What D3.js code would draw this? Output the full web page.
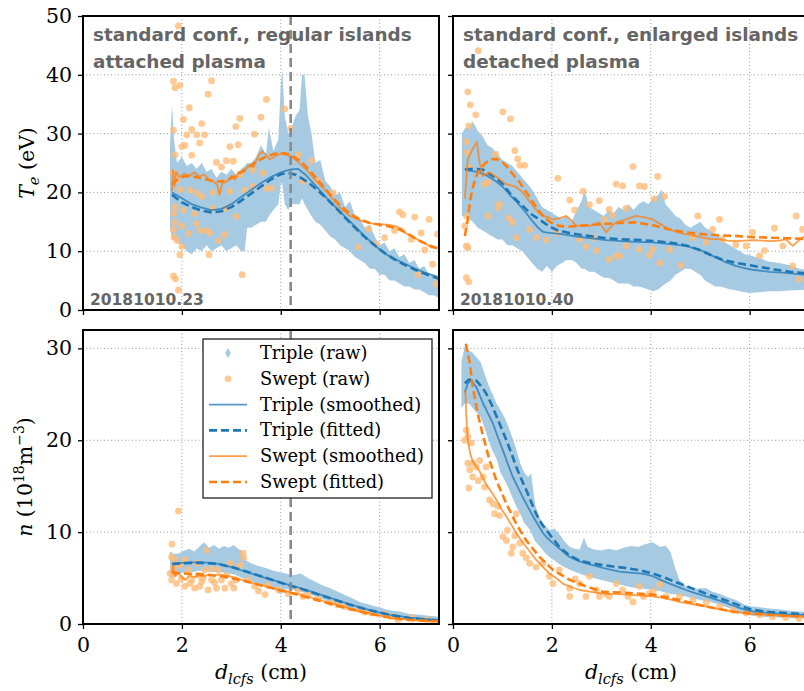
<!DOCTYPE html>
<html>
<head>
<meta charset="utf-8">
<script src="https://cdn.jsdelivr.net/npm/d3@7/dist/d3.min.js"></script>
<style>
  body { margin: 0; background: #fff; overflow: hidden; }
  svg { display: block; font-family: "DejaVu Serif", serif; }
  .annot { font-family: "DejaVu Sans", sans-serif; font-weight: bold; fill: #656565; }
  .tick text { font-family: "DejaVu Serif", serif; font-size: 20.5px; fill: #000; }
</style>
</head>
<body>
<svg id="chart" width="804" height="691"></svg>
<script>
// ============== Data ==============
const xDomain = [0, 7.2];
const dTicks = [0, 2, 4, 6];
const teTicks = [0, 10, 20, 30, 40, 50];
const nTicks = [0, 10, 20, 30];
const separatrixD = 4.2;

// --- Te, attached (20181010.23): triple raw envelope [d, low, high]
const teAttBand = [
  [1.76, 14, 28], [1.80, 12, 35], [1.84, 12, 29], [1.90, 11.5, 25], [2.00, 11, 26],
  [2.10, 10, 24.5], [2.20, 9.5, 25], [2.30, 10.5, 24], [2.40, 10, 25], [2.50, 11, 23.5],
  [2.60, 10, 24], [2.70, 10.5, 22.5], [2.80, 11, 23.5], [2.90, 10, 23], [3.00, 10.5, 24],
  [3.10, 11, 23], [3.20, 10, 24], [3.27, 10, 24.5], [3.32, 14, 25], [3.40, 14, 25],
  [3.50, 14.5, 26], [3.60, 15, 28], [3.70, 15, 26.5], [3.76, 16, 31], [3.85, 17, 27],
  [3.95, 18, 29], [4.00, 21.5, 38], [4.03, 21.5, 41], [4.08, 18, 33], [4.15, 17, 30],
  [4.22, 18, 31], [4.30, 18, 33], [4.38, 18, 34], [4.43, 19, 40], [4.48, 18, 40],
  [4.55, 17, 33], [4.62, 16, 30], [4.70, 15, 25], [4.80, 14.5, 25.5], [4.90, 13.5, 22],
  [5.00, 12.5, 21], [5.10, 12, 19.5], [5.20, 11, 20], [5.30, 10.5, 17.5], [5.40, 10, 18.5],
  [5.50, 9, 16], [5.60, 8.5, 15.5], [5.70, 8, 14], [5.80, 7, 14.5], [5.90, 7, 12.5],
  [6.00, 6, 11], [6.10, 6, 11.5], [6.20, 5, 10], [6.30, 5, 10.5], [6.40, 4.5, 9],
  [6.50, 4, 9.5], [6.60, 4, 8], [6.70, 3.5, 8.5], [6.80, 3.5, 7], [6.90, 3, 7.5],
  [7.00, 2.5, 6], [7.10, 2.5, 6], [7.20, 2, 5]
];
const teAttSwept = [
  [1.93, 48.3], [1.83, 38.9], [1.86, 37.8], [1.96, 38.2], [2.60, 39.0], [2.53, 36.7],
  [2.15, 34.4], [3.71, 35.8], [2.03, 32.4], [3.17, 32.6], [3.60, 32.8], [4.08, 34.2],
  [4.20, 30.9], [1.83, 30.6], [2.20, 30.7], [2.40, 31.7], [2.10, 29.8], [2.30, 29.8],
  [2.46, 29.8], [2.36, 28.4], [3.09, 31.2], [3.47, 29.9], [2.00, 27.8], [2.06, 28.0],
  [2.97, 27.8], [3.14, 28.1], [1.86, 26.4], [2.20, 26.3], [2.70, 25.1], [2.90, 25.4],
  [3.04, 25.3], [2.80, 24.3], [3.17, 23.0], [3.64, 23.3], [3.44, 23.8], [4.35, 26.4],
  [4.62, 25.4], [4.75, 22.0], [3.71, 20.7], [3.81, 20.7], [4.45, 21.9], [5.06, 19.9],
  [1.83, 23.3], [1.90, 22.1], [1.96, 20.5], [2.16, 20.4], [2.30, 19.9], [2.40, 19.3],
  [2.63, 20.0], [2.97, 20.2], [3.27, 20.4], [3.44, 21.0], [1.86, 17.5], [2.03, 17.0],
  [2.30, 14.7], [2.36, 13.5], [2.50, 13.5], [2.56, 13.1], [2.13, 13.0], [2.00, 14.3],
  [1.83, 16.4], [1.86, 14.9], [1.83, 13.7], [2.26, 16.4], [2.63, 17.3], [2.89, 17.3],
  [3.10, 15.9], [2.87, 12.8], [2.74, 11.8], [1.84, 12.4], [1.90, 11.8], [2.00, 10.8],
  [1.96, 9.4], [2.55, 9.4], [1.83, 5.8], [1.87, 5.3], [1.93, 3.4], [3.22, 6.0],
  [5.57, 10.7], [5.78, 13.8], [5.94, 11.2], [6.10, 12.3], [6.30, 13.5], [6.40, 16.7],
  [6.47, 16.2], [6.71, 15.8], [7.00, 15.4], [6.84, 13.1], [6.64, 12.0], [6.91, 10.2],
  [6.77, 6.0], [7.07, 7.8], [7.14, 4.4], [7.17, 12.9]
];
const teAttTripleSmooth = [
  [1.8, 20], [2.0, 19], [2.2, 18], [2.4, 17.4], [2.6, 17], [2.8, 17.2], [3.0, 18],
  [3.2, 19.2], [3.4, 20.4], [3.6, 21.6], [3.8, 22.6], [4.0, 23.4], [4.2, 23.9],
  [4.35, 24], [4.5, 23], [4.7, 21.2], [4.9, 19.3], [5.1, 17.6], [5.3, 15.9], [5.5, 14.2],
  [5.7, 12.5], [5.9, 11], [6.1, 9.6], [6.3, 8.7], [6.5, 7.9], [6.7, 7.1], [6.9, 6.4], [7.2, 5.6]
];
const teAttTripleFit = [
  [1.8, 19.6], [2.0, 18.3], [2.2, 17.5], [2.4, 16.9], [2.6, 16.6], [2.8, 16.8], [3.0, 17.5],
  [3.2, 18.6], [3.4, 19.8], [3.6, 21], [3.8, 22.2], [4.0, 23.1], [4.15, 23.3], [4.3, 23],
  [4.5, 22], [4.7, 20.7], [4.9, 19.2], [5.1, 17.5], [5.3, 15.7], [5.5, 14], [5.7, 12.4],
  [5.9, 11], [6.1, 9.7], [6.3, 8.6], [6.5, 7.7], [6.7, 6.9], [6.9, 6.2], [7.2, 5.3]
];
const teAttSweptSmooth = [
  [1.8, 20.2], [1.82, 23.8], [1.85, 21], [1.88, 23.5], [1.95, 22.6], [2.05, 23.2], [2.15, 22.8],
  [2.25, 23.4], [2.35, 22.7], [2.45, 23], [2.55, 22.2], [2.65, 21.8], [2.72, 21.2], [2.76, 19.6],
  [2.82, 21.6], [2.9, 21.8], [3.0, 22.8], [3.08, 22.2], [3.15, 23.5], [3.25, 23.4], [3.35, 24.6],
  [3.45, 24.3], [3.55, 26.3], [3.62, 27], [3.7, 26.4], [3.78, 25.6], [3.9, 26.2], [4.0, 26.6],
  [4.1, 26.4], [4.2, 26.2], [4.35, 25.2], [4.5, 24], [4.65, 22.6], [4.8, 21.2], [4.95, 19.9],
  [5.1, 18.4], [5.25, 17], [5.4, 16], [5.55, 15.4], [5.7, 15], [5.85, 14.7], [6.0, 14.6],
  [6.15, 14.5], [6.3, 14.3], [6.45, 13.8], [6.55, 12.9], [6.65, 12.6], [6.8, 11.8],
  [6.95, 11.2], [7.05, 10.6], [7.2, 10.6]
];
const teAttSweptFit = [
  [1.8, 21.4], [1.95, 22.5], [2.1, 22.8], [2.3, 22.6], [2.5, 22.2], [2.7, 21.8], [2.9, 22],
  [3.1, 22.9], [3.3, 24], [3.5, 25.2], [3.7, 26.1], [3.9, 26.6], [4.05, 26.7], [4.2, 26.4],
  [4.4, 25.3], [4.6, 23.6], [4.8, 21.6], [5.0, 19.6], [5.2, 17.8], [5.4, 16.4], [5.6, 15.4],
  [5.8, 14.8], [6.0, 14.5], [6.2, 14.2], [6.4, 13.7], [6.6, 12.8], [6.8, 11.8], [7.0, 11], [7.2, 10.4]
];

// --- Te, detached (20181010.40)
const teDetBand = [
  [0.18, 16, 30], [0.25, 16, 31], [0.30, 15.5, 31], [0.40, 15, 32], [0.50, 14, 30.5],
  [0.60, 13.5, 29.5], [0.70, 13, 28], [0.80, 12.5, 27.5], [0.90, 12, 26.5], [1.00, 12, 25.5],
  [1.10, 11, 25], [1.20, 11, 24.5], [1.30, 10.5, 23.5], [1.40, 10, 22.5], [1.50, 9, 21.5],
  [1.60, 8, 20.5], [1.70, 7, 19], [1.80, 6.5, 17.5], [1.90, 7.5, 17], [2.00, 6.5, 16.5],
  [2.10, 7.5, 16], [2.20, 8, 15.5], [2.30, 8.5, 16], [2.40, 8.5, 15], [2.50, 8, 17],
  [2.60, 7, 18.5], [2.66, 7, 20.5], [2.75, 6.5, 17.5], [2.85, 6.5, 17], [2.95, 6, 16.5],
  [3.05, 5.5, 16], [3.15, 5.5, 17], [3.25, 5, 16.5], [3.35, 4.5, 17.5], [3.45, 4.5, 17],
  [3.55, 4.5, 18], [3.65, 4, 17], [3.75, 4, 18], [3.85, 3.8, 18.5], [3.95, 3.5, 18],
  [4.05, 3.2, 19], [4.15, 3.5, 19.5], [4.22, 4, 20.5], [4.30, 4.5, 18], [4.40, 5, 17],
  [4.50, 6, 16], [4.60, 6.5, 15.5], [4.70, 7, 14.5], [4.80, 7, 14], [4.90, 6.5, 14.5],
  [5.00, 6, 15], [5.10, 5, 14], [5.20, 4.5, 13.5], [5.30, 4, 13], [5.40, 4, 12.5],
  [5.50, 3.8, 11.5], [5.60, 3.5, 11], [5.70, 3.4, 10.5], [5.80, 3.2, 10], [5.90, 3, 9.5],
  [6.00, 2.9, 9.3], [6.20, 3, 8.8], [6.40, 3.2, 8.2], [6.60, 3.2, 8], [6.80, 3.3, 7.6],
  [7.00, 3.4, 7], [7.20, 3.4, 6.8]
];
const teDetSwept = [
  [0.51, 44.1], [0.30, 37.1], [0.35, 34.9], [0.46, 33.2], [0.32, 31.3], [1.01, 33.7],
  [1.16, 32.5], [0.27, 28.6], [0.28, 26.8], [0.86, 26.5], [1.25, 27.1], [1.31, 25.7],
  [1.35, 24.6], [1.45, 24.6], [0.34, 24.2], [0.64, 21.4], [0.71, 21.7], [0.94, 18.0],
  [0.91, 17.4], [0.27, 16.0], [0.24, 14.3], [0.27, 10.9], [0.30, 10.6], [0.27, 5.5],
  [0.32, 4.8], [0.71, 16.0], [1.13, 15.6], [1.20, 14.9], [1.28, 12.3], [1.55, 13.7],
  [1.68, 12.3], [1.89, 11.9], [2.12, 22.4], [2.36, 18.7], [2.46, 17.0], [2.63, 20.2],
  [2.76, 17.9], [2.96, 18.6], [3.22, 16.1], [3.30, 21.4], [3.43, 21.1], [3.50, 17.3],
  [3.64, 24.4], [3.77, 21.1], [3.87, 21.0], [4.07, 18.9], [4.14, 22.7], [4.28, 19.3],
  [2.56, 12.0], [2.69, 10.8], [2.83, 12.3], [3.16, 8.6], [3.30, 9.2], [3.37, 9.2],
  [2.90, 10.1], [3.50, 10.9], [3.77, 10.3], [3.97, 9.3], [4.04, 10.3], [4.18, 8.0],
  [4.38, 10.3], [4.61, 7.6], [4.84, 12.3], [4.95, 16.0], [5.12, 11.5], [5.25, 13.7],
  [5.39, 15.4], [5.45, 12.0], [5.72, 11.1], [5.93, 10.9], [6.06, 13.2], [6.20, 9.2],
  [6.30, 10.1], [6.50, 13.9], [6.67, 10.9], [6.87, 7.5], [6.94, 16.0], [7.00, 5.2],
  [7.07, 13.7], [2.09, 13.1], [3.06, 15.4], [3.16, 17.1]
];
const teDetTripleSmooth = [
  [0.26, 23.8], [0.4, 23.6], [0.54, 23.4], [0.7, 22.8], [0.85, 22], [1.0, 21], [1.15, 19.6],
  [1.3, 18.3], [1.45, 16.8], [1.6, 15.2], [1.72, 14], [1.82, 13.3], [1.95, 13.1], [2.2, 12.9],
  [2.5, 12.5], [2.8, 12.2], [3.1, 11.9], [3.4, 11.7], [3.7, 11.6], [4.04, 11.5], [4.4, 11.2],
  [4.71, 10.9], [4.95, 10.3], [5.12, 9.8], [5.3, 9], [5.5, 8.2], [5.72, 7.5], [5.9, 7.1],
  [6.1, 6.8], [6.4, 6.5], [6.73, 6.3], [7.07, 6], [7.2, 5.9]
];
const teDetTripleFit = [
  [0.24, 23.9], [0.4, 24], [0.6, 23.9], [0.8, 22.8], [1.0, 21.5], [1.2, 19.3], [1.42, 17.6],
  [1.6, 16.2], [1.76, 15.3], [1.95, 14.2], [2.1, 13.6], [2.35, 13.1], [2.57, 12.8], [2.85, 12.5],
  [3.1, 12.2], [3.45, 12.0], [3.79, 11.9], [4.1, 11.7], [4.45, 11.4], [4.75, 10.9], [4.99, 10.2],
  [5.2, 9.4], [5.46, 8.5], [5.8, 7.9], [6.14, 7.4], [6.5, 6.9], [6.81, 6.5], [7.07, 6.3], [7.2, 6.2]
];
const teDetSweptSmooth = [
  [0.24, 18.9], [0.3, 25.7], [0.4, 27.4], [0.48, 28.6], [0.54, 25.1], [0.6, 22.8], [0.74, 23.4],
  [0.94, 22.3], [1.05, 21.5], [1.21, 21.1], [1.3, 20.8], [1.41, 20], [1.52, 18.8], [1.62, 17.7],
  [1.72, 16.6], [1.82, 16], [1.92, 15.8], [2.02, 15.4], [2.15, 15.6], [2.29, 16], [2.4, 15.2],
  [2.49, 14.3], [2.62, 14.4], [2.76, 14.3], [2.88, 14.6], [2.96, 14.9], [3.05, 13.8], [3.1, 13.2],
  [3.2, 14.2], [3.3, 14.9], [3.5, 15.4], [3.7, 16], [3.85, 15.8], [4.04, 15.4], [4.2, 14.6],
  [4.38, 13.7], [4.55, 13.2], [4.71, 12.9], [4.9, 12.6], [5.05, 12.3], [5.2, 12.1], [5.39, 12],
  [5.55, 11.8], [5.72, 11.7], [5.9, 11.8], [6.06, 11.9], [6.25, 11.8], [6.4, 11.7], [6.6, 11.8],
  [6.73, 12], [6.87, 10.9], [6.95, 11.5], [7.07, 12.4], [7.2, 12.4]
];
const teDetSweptFit = [
  [0.24, 12.6], [0.3, 15.5], [0.34, 18.3], [0.4, 20.8], [0.47, 22.8], [0.57, 24.2], [0.67, 25.1],
  [0.78, 25.6], [0.88, 25.7], [0.98, 25.3], [1.08, 24.5], [1.2, 23.2], [1.35, 21.7], [1.5, 19.8],
  [1.62, 18.3], [1.75, 16.7], [1.89, 15.4], [2.02, 14.7], [2.15, 14.3], [2.35, 14.2], [2.56, 14.3],
  [2.8, 14.5], [3.03, 14.6], [3.35, 14.8], [3.7, 14.9], [4.05, 14.4], [4.38, 13.7], [4.7, 13.2],
  [5.05, 12.9], [5.4, 12.7], [5.72, 12.6], [6.05, 12.4], [6.4, 12.3], [6.75, 12.2], [7.07, 12.1], [7.2, 12.1]
];

// --- n, attached
const nAttBand = [
  [1.76, 5.0, 7.9], [1.85, 5.2, 7.6], [1.95, 5.5, 7.7], [2.05, 5.6, 8.0], [2.15, 5.6, 8.2],
  [2.25, 5.7, 7.9], [2.35, 5.8, 8.4], [2.45, 5.8, 8.9], [2.55, 5.7, 8.3], [2.65, 5.7, 8.6],
  [2.75, 5.6, 8.2], [2.85, 5.6, 8.5], [2.95, 5.5, 8.3], [3.05, 5.4, 8.6], [3.15, 5.2, 8.1],
  [3.22, 5.0, 8.0], [3.28, 4.9, 7.0], [3.40, 4.7, 6.6], [3.55, 4.4, 6.3], [3.70, 4.2, 6.1],
  [3.85, 3.9, 5.8], [4.00, 3.2, 5.6], [4.10, 3.8, 5.5], [4.25, 3.7, 5.3], [4.40, 3.5, 5.5],
  [4.55, 3.3, 5.0], [4.70, 3.0, 4.6], [4.85, 2.7, 4.2], [5.00, 2.4, 3.9], [5.20, 2.0, 3.4],
  [5.40, 1.7, 2.9], [5.60, 1.4, 2.4], [5.80, 1.1, 2.1], [6.00, 0.9, 1.8], [6.20, 0.7, 1.5],
  [6.40, 0.5, 1.35], [6.60, 0.45, 1.1], [6.80, 0.4, 1.0], [7.00, 0.35, 0.9], [7.20, 0.3, 0.8]
];
const nAttSwept = [
  [1.93, 12.3], [1.80, 8.7], [1.79, 7.3], [1.83, 6.2], [1.86, 5.5], [1.79, 4.8], [1.89, 4.4],
  [1.99, 4.9], [2.06, 4.1], [2.13, 5.9], [2.20, 4.8], [2.26, 3.9], [2.33, 5.3], [2.40, 4.6],
  [2.46, 5.9], [2.53, 3.7], [2.60, 4.8], [2.70, 3.9], [2.73, 5.9], [2.80, 4.8], [2.90, 5.3],
  [3.00, 4.4], [3.10, 4.8], [3.24, 7.7], [3.17, 6.4], [3.34, 4.8], [3.47, 4.1], [3.68, 3.2],
  [3.74, 4.2], [3.95, 3.7], [4.15, 3.3], [4.35, 3.7], [4.55, 3.2], [4.75, 2.8], [5.02, 2.3],
  [5.29, 1.9], [5.56, 1.6], [5.83, 1.2], [6.10, 1.1], [6.37, 0.5], [6.64, 0.7], [6.97, 0.5],
  [1.86, 7.0], [1.96, 6.4], [2.06, 7.0], [2.30, 6.6], [2.60, 6.0], [2.97, 6.6], [1.76, 5.5],
  [2.36, 4.1], [2.87, 3.9], [2.50, 8.05], [3.25, 7.2], [2.16, 4.4], [2.43, 5.0], [2.66, 4.5],
  [3.05, 3.9], [3.55, 3.6], [4.45, 3.0], [5.15, 2.1], [5.70, 1.3], [6.25, 0.8]
];
const nAttTripleSmooth = [
  [1.8, 6.6], [2.0, 6.65], [2.2, 6.7], [2.4, 6.7], [2.6, 6.65], [2.8, 6.5], [3.0, 6.2],
  [3.2, 5.85], [3.4, 5.5], [3.6, 5.15], [3.8, 4.85], [4.0, 4.5], [4.2, 4.2], [4.4, 3.9],
  [4.6, 3.55], [4.8, 3.2], [5.0, 2.85], [5.2, 2.5], [5.4, 2.15], [5.6, 1.8], [5.8, 1.5],
  [6.0, 1.25], [6.2, 1.0], [6.4, 0.85], [6.6, 0.7], [6.8, 0.6], [7.0, 0.5], [7.2, 0.45]
];
const nAttTripleFit = [
  [1.8, 6.5], [2.0, 6.6], [2.2, 6.65], [2.4, 6.65], [2.6, 6.6], [2.8, 6.45], [3.0, 6.2],
  [3.2, 5.9], [3.4, 5.55], [3.6, 5.2], [3.8, 4.85], [4.0, 4.5], [4.2, 4.15], [4.4, 3.85],
  [4.6, 3.5], [4.8, 3.15], [5.0, 2.8], [5.2, 2.45], [5.4, 2.1], [5.6, 1.8], [5.8, 1.5],
  [6.0, 1.25], [6.2, 1.0], [6.4, 0.8], [6.6, 0.65], [6.8, 0.55], [7.0, 0.45], [7.2, 0.4]
];
const nAttSweptSmooth = [
  [1.8, 5.5], [1.82, 6.4], [1.86, 5.2], [1.92, 5.6], [2.0, 5.1], [2.08, 4.8], [2.15, 5.3],
  [2.25, 5.1], [2.35, 5.3], [2.45, 5.2], [2.55, 5.4], [2.65, 5.3], [2.75, 5.4], [2.85, 5.3],
  [3.0, 5.15], [3.15, 4.9], [3.3, 4.7], [3.45, 4.45], [3.6, 4.25], [3.8, 3.95], [4.0, 3.7],
  [4.2, 3.45], [4.4, 3.2], [4.6, 2.9], [4.8, 2.6], [5.0, 2.3], [5.2, 2.0], [5.4, 1.7],
  [5.6, 1.4], [5.8, 1.15], [6.0, 0.9], [6.2, 0.7], [6.4, 0.55], [6.6, 0.45], [6.8, 0.38],
  [7.0, 0.32], [7.2, 0.3]
];
const nAttSweptFit = [
  [1.8, 5.6], [2.0, 5.5], [2.2, 5.45], [2.4, 5.4], [2.6, 5.3], [2.8, 5.2], [3.0, 5.0],
  [3.2, 4.75], [3.4, 4.5], [3.6, 4.2], [3.8, 3.95], [4.0, 3.65], [4.2, 3.4], [4.4, 3.1],
  [4.6, 2.8], [4.8, 2.5], [5.0, 2.2], [5.2, 1.9], [5.4, 1.6], [5.6, 1.35], [5.8, 1.1],
  [6.0, 0.9], [6.2, 0.7], [6.4, 0.55], [6.6, 0.45], [6.8, 0.38], [7.0, 0.32], [7.2, 0.3]
];

// --- n, detached
const nDetBand = [
  [0.17, 23.5, 28.5], [0.24, 24, 30.3], [0.32, 24, 29.8], [0.40, 23.5, 29.5], [0.48, 23, 29],
  [0.56, 22.5, 28.5], [0.64, 21.3, 27.2], [0.72, 20, 26], [0.80, 18.8, 25], [0.88, 18, 24],
  [0.96, 16.5, 23.3], [1.04, 15.7, 22.5], [1.12, 14.8, 21.5], [1.20, 13.8, 20.3], [1.28, 12.8, 19],
  [1.36, 12, 17.5], [1.44, 11, 16.5], [1.52, 10.5, 16], [1.58, 10, 16.4], [1.66, 9, 13],
  [1.75, 8.5, 11.6], [1.85, 7.8, 10.8], [1.95, 7.3, 10.2], [2.05, 6.9, 10.4], [2.15, 6.5, 9.8],
  [2.25, 6.2, 9.0], [2.36, 5.9, 8.4], [2.46, 5.7, 8.2], [2.56, 5.5, 8.1], [2.65, 5.3, 9.4],
  [2.72, 5.2, 8.4], [2.85, 5.0, 8.1], [3.00, 4.8, 8.0], [3.15, 4.6, 8.2], [3.30, 4.4, 8.0],
  [3.45, 4.2, 8.3], [3.60, 4.0, 8.5], [3.75, 3.9, 8.4], [3.90, 3.8, 8.7], [4.04, 3.7, 8.9],
  [4.18, 3.6, 8.4], [4.31, 3.4, 8.5], [4.40, 3.3, 7.8], [4.50, 3.2, 6.0], [4.58, 3.1, 4.8],
  [4.70, 3.0, 4.2], [4.85, 2.8, 3.8], [5.00, 2.6, 3.9], [5.12, 2.5, 3.9], [5.25, 2.3, 3.5],
  [5.39, 2.1, 3.3], [5.55, 1.8, 2.9], [5.72, 1.5, 2.6], [5.90, 1.1, 2.1], [6.06, 0.9, 1.9],
  [6.25, 0.8, 1.8], [6.40, 0.75, 1.7], [6.60, 0.7, 1.6], [6.80, 0.65, 1.45], [7.00, 0.6, 1.35],
  [7.20, 0.6, 1.3]
];
const nDetSwept = [
  [0.27, 21.1], [0.30, 20.4], [0.37, 19.7], [0.24, 20.0], [0.30, 17.5], [0.34, 16.8], [0.40, 17.5],
  [0.47, 17.1], [0.54, 17.8], [0.40, 16.0], [0.51, 15.6], [0.61, 16.0], [0.67, 17.1], [0.64, 14.9],
  [0.32, 14.8], [0.74, 13.5], [0.81, 13.1], [0.91, 12.8], [0.84, 12.0], [0.94, 11.8], [1.01, 9.5],
  [1.08, 9.1], [1.21, 8.4], [1.28, 12.0], [1.35, 8.8], [1.41, 7.7], [1.18, 7.7], [1.55, 6.6],
  [1.68, 6.2], [1.82, 6.6], [1.95, 5.2], [2.15, 5.9], [2.36, 3.9], [2.56, 4.4], [2.69, 3.0],
  [2.76, 5.2], [2.90, 3.7], [3.10, 3.3], [3.30, 4.4], [3.43, 3.7], [3.64, 2.4], [3.77, 4.1],
  [3.97, 3.3], [4.18, 4.3], [4.31, 3.0], [4.58, 3.0], [4.85, 2.6], [5.12, 2.3], [5.39, 1.9],
  [5.66, 1.5], [5.93, 1.2], [6.20, 1.0], [6.46, 0.8], [6.73, 0.7], [7.00, 0.6], [2.02, 4.4],
  [2.96, 3.0], [3.16, 3.0], [2.36, 3.0], [3.54, 3.0], [1.10, 10.2], [1.25, 9.6], [1.48, 7.2],
  [2.47, 4.9], [3.85, 3.0], [4.05, 3.6]
];
const nDetTripleSmooth = [
  [0.24, 25.2], [0.3, 26.2], [0.37, 26.5], [0.47, 25.8], [0.61, 24.0], [0.71, 22.9], [0.81, 21.8],
  [0.91, 20.3], [1.01, 18.9], [1.11, 17.4], [1.21, 16.0], [1.31, 14.9], [1.41, 13.8], [1.52, 12.7],
  [1.62, 11.7], [1.72, 10.8], [1.82, 9.9], [1.92, 9.3], [2.02, 8.8], [2.2, 8.0], [2.36, 7.3],
  [2.52, 6.9], [2.69, 6.6], [2.86, 6.35], [3.03, 6.1], [3.2, 5.9], [3.37, 5.7], [3.57, 5.6],
  [3.77, 5.5], [3.9, 5.4], [4.04, 5.2], [4.2, 4.8], [4.38, 4.4], [4.55, 4.05], [4.71, 3.7],
  [4.9, 3.35], [5.12, 3.0], [5.32, 2.65], [5.52, 2.3], [5.72, 1.9], [5.93, 1.5], [6.15, 1.3],
  [6.4, 1.2], [6.75, 1.05], [7.07, 1.0], [7.2, 1.0]
];
const nDetTripleFit = [
  [0.24, 26.2], [0.32, 26.6], [0.47, 26.5], [0.57, 25.9], [0.67, 25.1], [0.78, 23.9], [0.88, 22.6],
  [0.98, 21.3], [1.08, 20.0], [1.18, 18.6], [1.28, 17.1], [1.38, 15.8], [1.48, 14.6], [1.58, 13.3],
  [1.68, 12.0], [1.78, 11.0], [1.89, 10.2], [2.02, 9.3], [2.15, 8.4], [2.35, 7.5], [2.56, 6.9],
  [2.8, 6.6], [3.03, 6.4], [3.25, 6.25], [3.5, 6.1], [3.77, 5.85], [4.04, 5.5], [4.3, 5.0],
  [4.58, 4.4], [4.85, 3.85], [5.12, 3.3], [5.4, 2.8], [5.66, 2.3], [5.9, 1.8], [6.06, 1.55],
  [6.4, 1.3], [6.73, 1.2], [7.07, 1.05], [7.2, 1.0]
];
const nDetSweptSmooth = [
  [0.25, 25.5], [0.27, 22.5], [0.3, 19.9], [0.35, 18.5], [0.4, 17.7], [0.54, 16.6], [0.67, 15.2],
  [0.81, 14.1], [0.88, 13.5], [0.98, 12.5], [1.08, 11.7], [1.18, 10.8], [1.28, 9.9], [1.38, 9.1],
  [1.48, 8.4], [1.58, 7.7], [1.68, 7.0], [1.82, 6.2], [1.95, 5.5], [2.1, 4.95], [2.22, 4.4],
  [2.4, 4.0], [2.56, 3.7], [2.8, 3.5], [3.03, 3.3], [3.3, 3.25], [3.5, 3.2], [3.77, 3.1],
  [4.04, 3.0], [4.3, 2.8], [4.58, 2.4], [4.85, 2.15], [5.12, 1.9], [5.4, 1.6], [5.72, 1.3],
  [6.0, 1.1], [6.4, 1.0], [6.73, 0.9], [7.07, 0.8], [7.2, 0.8]
];
const nDetSweptFit = [
  [0.26, 30.5], [0.34, 28.4], [0.4, 25.8], [0.5, 22.9], [0.61, 20.4], [0.74, 17.8], [0.88, 15.6],
  [1.08, 13.1], [1.28, 10.9], [1.48, 9.1], [1.75, 7.3], [2.02, 5.9], [2.36, 4.8], [2.69, 4.1],
  [3.03, 3.5], [3.5, 3.4], [4.04, 3.2], [4.58, 2.6], [5.12, 1.9], [5.72, 1.3], [6.4, 1.0],
  [7.07, 0.8], [7.2, 0.8]
];

const legendLabels = ['Triple (raw)', 'Swept (raw)', 'Triple (smoothed)', 'Triple (fitted)',
  'Swept (smoothed)', 'Swept (fitted)'];

// ============== Styles ==============
const bandColor = '#a6cae2';
const sweptDotColor = '#ffbb78';
const tripleColor = '#1f77b4';
const sweptColor = '#ff7f0e';

const svg = d3.select('#chart');
const panelW = 356, panelH = 294;

const panels = [
  {left: 83, top: 16, yDomain: [0, 50], yTicks: teTicks, yLabels: true, xLabels: false, vline: true,
   band: teAttBand, swept: teAttSwept, lines: [teAttTripleSmooth, teAttTripleFit, teAttSweptSmooth, teAttSweptFit],
   title: ['standard conf., regular islands', 'attached plasma'], shot: '20181010.23'},
  {left: 453, top: 16, yDomain: [0, 50], yTicks: teTicks, yLabels: false, xLabels: false, vline: false,
   band: teDetBand, swept: teDetSwept, lines: [teDetTripleSmooth, teDetTripleFit, teDetSweptSmooth, teDetSweptFit],
   title: ['standard conf., enlarged islands', 'detached plasma'], shot: '20181010.40'},
  {left: 83, top: 330, yDomain: [0, 32], yTicks: nTicks, yLabels: true, xLabels: true, vline: true,
   band: nAttBand, swept: nAttSwept, lines: [nAttTripleSmooth, nAttTripleFit, nAttSweptSmooth, nAttSweptFit]},
  {left: 453, top: 330, yDomain: [0, 32], yTicks: nTicks, yLabels: false, xLabels: true, vline: false,
   band: nDetBand, swept: nDetSwept, lines: [nDetTripleSmooth, nDetTripleFit, nDetSweptSmooth, nDetSweptFit]}
];

const lineStyles = [
  {color: tripleColor, width: 1.8, opacity: 0.75, dash: null},
  {color: tripleColor, width: 2.6, opacity: 1, dash: '8,4'},
  {color: sweptColor, width: 1.8, opacity: 0.75, dash: null},
  {color: sweptColor, width: 2.6, opacity: 1, dash: '8,4'}
];

// ============== Panels ==============
panels.forEach((p, i) => {
  const g = svg.append('g').attr('transform', `translate(${p.left},${p.top})`);
  const x = d3.scaleLinear().domain(xDomain).range([0, panelW]);
  const y = d3.scaleLinear().domain(p.yDomain).range([panelH, 0]);

  g.append('clipPath').attr('id', 'clip' + i)
    .append('rect').attr('width', panelW).attr('height', panelH);
  const plot = g.append('g').attr('clip-path', `url(#clip${i})`);

  // grid
  plot.selectAll('.gx').data(dTicks.filter(d => d > 0)).enter().append('line')
    .attr('x1', d => x(d)).attr('x2', d => x(d)).attr('y1', 0).attr('y2', panelH)
    .attr('stroke', '#999').attr('stroke-width', 1).attr('stroke-dasharray', '1,2.5');
  plot.selectAll('.gy').data(p.yTicks.filter(d => d > 0 && d < p.yDomain[1])).enter().append('line')
    .attr('x1', 0).attr('x2', panelW).attr('y1', d => y(d)).attr('y2', d => y(d))
    .attr('stroke', '#999').attr('stroke-width', 1).attr('stroke-dasharray', '1,2.5');

  // triple raw band
  plot.append('path').datum(p.band)
    .attr('fill', bandColor)
    .attr('d', d3.area().x(d => x(d[0])).y0(d => y(d[1])).y1(d => y(d[2])));

  // swept raw points
  plot.selectAll('.dot').data(p.swept).enter().append('circle')
    .attr('cx', d => x(d[0])).attr('cy', d => y(d[1])).attr('r', 3.4)
    .attr('fill', sweptDotColor).attr('fill-opacity', 0.8);

  // lines
  const line = d3.line().x(d => x(d[0])).y(d => y(d[1]));
  p.lines.forEach((ln, k) => {
    const s = lineStyles[k];
    plot.append('path').datum(ln)
      .attr('fill', 'none').attr('stroke', s.color).attr('stroke-width', s.width)
      .attr('stroke-opacity', s.opacity).attr('stroke-dasharray', s.dash)
      .attr('stroke-linejoin', 'round')
      .attr('d', line);
  });

  // separatrix marker
  if (p.vline) {
    plot.append('line')
      .attr('x1', x(separatrixD)).attr('x2', x(separatrixD)).attr('y1', 0).attr('y2', panelH)
      .attr('stroke', '#8a8a8a').attr('stroke-width', 2.6).attr('stroke-dasharray', '9,5');
  }

  // annotations
  if (p.title) {
    p.title.forEach((t, k) => {
      g.append('text').attr('class', 'annot').attr('x', 10).attr('y', 25 + k * 27)
        .style('font-size', '18.4px').text(t);
    });
    g.append('text').attr('class', 'annot').attr('x', 7).attr('y', panelH - 5)
      .style('font-size', '15.5px').text(p.shot);
  }

  // frame
  g.append('rect').attr('width', panelW).attr('height', panelH)
    .attr('fill', 'none').attr('stroke', '#000').attr('stroke-width', 2);

  // axes
  const ya = g.append('g').call(d3.axisLeft(y).tickValues(p.yTicks).tickSize(5).tickPadding(6)
    .tickFormat(p.yLabels ? d3.format('d') : ''));
  const xa = g.append('g').attr('transform', `translate(0,${panelH})`)
    .call(d3.axisBottom(x).tickValues(dTicks).tickSize(5).tickPadding(8)
      .tickFormat(p.xLabels ? d3.format('d') : ''));
  [ya, xa].forEach(a => {
    a.select('.domain').remove();
    a.selectAll('.tick line').attr('stroke', '#000').attr('stroke-width', 1.3);
  });
});

// ============== Axis labels ==============
const teLabel = svg.append('text')
  .attr('transform', 'translate(34,163) rotate(-90)')
  .attr('text-anchor', 'middle').style('font-size', '20.5px');
teLabel.append('tspan').style('font-style', 'italic').text('T');
teLabel.append('tspan').style('font-style', 'italic').style('font-size', '14.5px').attr('dy', 5).text('e');
teLabel.append('tspan').attr('dy', -5).text(' (eV)');

const nLabel = svg.append('text')
  .attr('transform', 'translate(32,477) rotate(-90)')
  .attr('text-anchor', 'middle').style('font-size', '20.5px');
nLabel.append('tspan').style('font-style', 'italic').text('n');
nLabel.append('tspan').text(' (10');
nLabel.append('tspan').style('font-size', '14px').attr('dy', -8).text('18');
nLabel.append('tspan').attr('dy', 8).text('m');
nLabel.append('tspan').style('font-size', '14px').attr('dy', -8).text('−3');
nLabel.append('tspan').attr('dy', 8).text(')');

[83 + panelW / 2, 453 + panelW / 2].forEach(cx => {
  const t = svg.append('text').attr('x', cx).attr('y', 679)
    .attr('text-anchor', 'middle').style('font-size', '20.5px');
  t.append('tspan').style('font-style', 'italic').text('d');
  t.append('tspan').style('font-style', 'italic').style('font-size', '14.5px').attr('dy', 5).text('lcfs');
  t.append('tspan').attr('dy', -5).text(' (cm)');
});

// ============== Legend ==============
const legend = svg.append('g').attr('transform', 'translate(203,339)');
legend.append('rect').attr('width', 229).attr('height', 159)
  .attr('fill', '#fff').attr('stroke', '#222').attr('stroke-width', 1.3);

const legendStyles = [
  {type: 'diamond'}, {type: 'dot'}, Object.assign({type: 'line'}, lineStyles[0]),
  Object.assign({type: 'line'}, lineStyles[1]), Object.assign({type: 'line'}, lineStyles[2]),
  Object.assign({type: 'line'}, lineStyles[3])
];
const rows = legend.selectAll('.row').data(legendLabels).enter().append('g')
  .attr('transform', (d, i) => `translate(0,${14 + i * 25.8})`);
rows.each(function(d, i) {
  const r = d3.select(this), s = legendStyles[i];
  if (s.type === 'diamond') {
    r.append('path').attr('transform', 'translate(25,0)')
      .attr('d', d3.symbol(d3.symbolDiamond, 28)).attr('fill', bandColor);
  } else if (s.type === 'dot') {
    r.append('circle').attr('cx', 25).attr('r', 3.4).attr('fill', sweptDotColor).attr('fill-opacity', 0.8);
  } else {
    r.append('line').attr('x1', 6).attr('x2', 44)
      .attr('stroke', s.color).attr('stroke-width', s.width).attr('stroke-opacity', s.opacity)
      .attr('stroke-dasharray', s.dash);
  }
  r.append('text').attr('x', 57).attr('y', 6).style('font-size', '17.8px').text(d);
});
</script>
</body>
</html>
